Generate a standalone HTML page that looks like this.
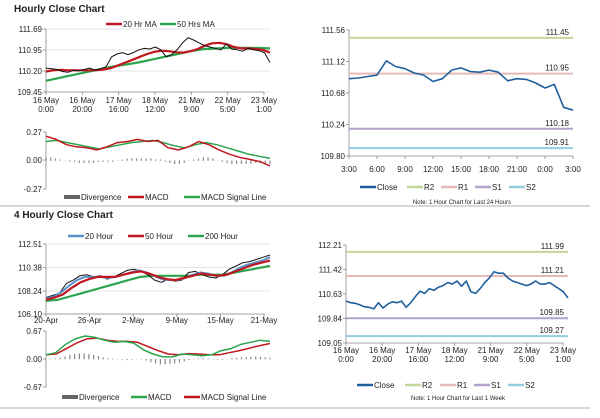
<!DOCTYPE html>
<html><head><meta charset="utf-8"><style>
body{margin:0;background:#fff;font-family:"Liberation Sans",Arial,sans-serif}
svg text{font-family:"Liberation Sans",Arial,sans-serif;fill:#222}
</style></head><body>
<svg id="s" width="600" height="413" viewBox="0 0 600 413">
<text x="14" y="12" font-size="10" font-weight="bold">Hourly Close Chart</text>
<text x="14" y="218" font-size="10" font-weight="bold">4 Hourly Close Chart</text>
<line x1="0" y1="206" x2="590" y2="206" stroke="#999" stroke-width="0.8"/>
<line x1="0" y1="408" x2="590" y2="408" stroke="#999" stroke-width="0.8"/>
<g id="g"></g>
</svg>
<script>
// ---------- data ----------
const p1Close=[110.30,110.28,110.25,110.18,110.15,110.22,110.20,110.25,110.30,110.22,110.28,110.35,110.70,110.80,110.85,110.78,110.85,110.95,111.00,110.98,111.05,110.95,110.70,110.78,110.95,111.20,111.38,111.30,111.20,111.10,111.05,111.00,110.95,111.15,110.98,110.95,110.90,111.00,110.95,110.92,110.85,110.50];
const p1MA20=[110.18,110.22,110.24,110.22,110.22,110.22,110.22,110.23,110.25,110.30,110.40,110.50,110.60,110.70,110.80,110.88,110.92,110.90,110.86,110.85,110.90,110.98,111.10,111.18,111.20,111.15,111.05,111.00,111.00,110.98,110.95,110.85];
const p1MA50=[109.85,109.95,110.05,110.15,110.25,110.35,110.42,110.50,110.60,110.70,110.80,110.90,110.98,111.00,111.02,111.02,111.02,111.00];
const p1MACD=[0.23,0.20,0.15,0.13,0.12,0.10,0.13,0.17,0.18,0.20,0.18,0.19,0.12,0.10,0.13,0.18,0.15,0.10,0.06,0.03,0.01,-0.01,-0.05];
const p1Signal=[0.18,0.19,0.17,0.15,0.13,0.11,0.13,0.15,0.17,0.18,0.19,0.17,0.14,0.12,0.15,0.17,0.15,0.12,0.09,0.06,0.04,0.02];
const p1Div=[0.03,0.03,0.02,0.01,0,-0.01,-0.01,-0.02,-0.02,-0.02,-0.02,-0.01,-0.01,-0.01,-0.01,0.0,0.01,0.02,0.02,0.02,0.02,0.02,0.02,0.01,0.01,-0.01,-0.02,-0.03,-0.03,-0.02,0.0,0.01,0.02,0.03,0.03,0.02,0.0,-0.01,-0.02,-0.03,-0.03,-0.03,-0.03,-0.03,-0.02,-0.02,-0.02,-0.03];
const p1YTicks=["111.69","110.95","110.20","109.45"];
const p1XTicks=[["16 May","0:00"],["16 May","20:00"],["17 May","16:00"],["18 May","12:00"],["21 May","9:00"],["22 May","5:00"],["23 May","1:00"]];

const p2Close=[110.88,110.89,110.91,110.93,111.13,111.05,111.02,110.96,110.93,110.84,110.88,111.00,111.03,110.98,110.97,111.00,110.97,110.85,110.88,110.87,110.82,110.75,110.80,110.48,110.44];
const p2Levels=[111.45,110.95,110.18,109.91];
const p2YTicks=["111.56","111.12","110.68","110.24","109.80"];
const p2XTicks=["3:00","6:00","9:00","12:00","15:00","18:00","21:00","0:00","3:00"];

const p3Close=[107.6,107.8,108.0,108.9,109.2,109.6,109.7,109.5,109.6,109.3,109.5,109.8,110.1,110.2,110.0,109.7,109.2,109.0,109.3,109.1,109.2,109.9,110.0,109.7,109.5,109.4,109.7,110.2,110.5,110.8,110.9,111.1,111.3,111.5];
const p3H20=[107.5,107.7,108.1,108.7,109.2,109.5,109.5,109.5,109.4,109.5,109.7,109.9,110.1,109.9,109.6,109.3,109.2,109.2,109.4,109.7,109.9,109.8,109.6,109.6,109.9,110.3,110.6,110.8,111.0,111.3];
const p3H50=[107.4,107.6,107.9,108.5,109.0,109.3,109.5,109.5,109.5,109.7,109.9,110.0,109.8,109.5,109.3,109.2,109.4,109.6,109.8,109.7,109.6,109.7,110.0,110.3,110.6,110.8,111.0];
const p3H200=[107.3,107.4,107.7,108.0,108.3,108.6,108.9,109.2,109.5,109.6,109.6,109.6,109.6,109.7,109.7,109.7,109.9,110.1,110.3,110.5];
const p3MACD=[0.10,0.15,0.35,0.48,0.55,0.52,0.45,0.40,0.42,0.38,0.22,0.12,0.05,0.05,0.12,0.10,0.08,0.10,0.20,0.25,0.35,0.40,0.45,0.42];
const p3Signal=[0.10,0.12,0.25,0.38,0.48,0.50,0.45,0.42,0.42,0.40,0.30,0.20,0.12,0.10,0.13,0.12,0.10,0.10,0.15,0.20,0.26,0.32,0.37];
const p3Div=[0,0,0.01,0.03,0.06,0.1,0.12,0.13,0.13,0.12,0.1,0.07,0.04,0.02,0.01,0,-0.01,-0.02,-0.01,0,0,-0.03,-0.07,-0.1,-0.12,-0.12,-0.11,-0.1,-0.08,-0.05,-0.02,0,0.01,0.02,0.01,0,-0.01,-0.01,0,0.02,0.03,0.04,0.05,0.05,0.06,0.05,0.04,0.03];
const p3YTicks=["112.51","110.38","108.24","106.10"];
const p3XTicks=["20-Apr","26-Apr","2-May","9-May","15-May","21-May"];

const p4Close=[110.40,110.35,110.33,110.28,110.22,110.20,110.15,110.35,110.18,110.30,110.38,110.35,110.40,110.20,110.35,110.55,110.72,110.65,110.80,110.75,110.85,110.90,111.00,110.95,111.05,110.88,111.05,110.70,110.65,110.80,111.00,111.15,111.35,111.30,111.30,111.15,111.05,111.00,110.95,110.90,110.95,111.05,110.95,110.95,111.00,110.90,110.80,110.70,110.50];
const p4Levels=[111.99,111.21,109.85,109.27];
const p4YTicks=["112.21","111.42","110.63","109.84","109.05"];
const p4XTicks=p1XTicks;

// ---------- drawing ----------
const NS="http://www.w3.org/2000/svg",G=document.getElementById('g');
function mk(t,a,txt){const e=document.createElementNS(NS,t);for(const k in a)e.setAttribute(k,a[k]);if(txt!==undefined)e.textContent=txt;G.appendChild(e);return e;}
function lin(v0,v1,p0,p1){return v=>p0+(v-v0)/(v1-v0)*(p1-p0);}
function series(arr,x0,x1,yf,col,w,name){
  const n=arr.length,pts=arr.map((v,i)=>(x0+i/(n-1)*(x1-x0)).toFixed(1)+','+yf(v).toFixed(1)).join(' ');
  const e=mk('polyline',{points:pts,fill:'none',stroke:col,'stroke-width':w,'stroke-linejoin':'round'});
  
  
}
function yaxis(x,ys,labels,name,grid,x1){
  const e=mk('line',{x1:x,y1:ys[0],x2:x,y2:ys[ys.length-1],stroke:'#888','stroke-width':0.8});
  
  labels.forEach((l,i)=>{
    if(grid){const g=mk('line',{x1:x,y1:ys[i],x2:x1,y2:ys[i],stroke:'#ccc','stroke-width':0.6});}
    mk('line',{x1:x-3,y1:ys[i],x2:x,y2:ys[i],stroke:'#888','stroke-width':0.8});
    const t=mk('text',{x:x-4,y:ys[i]+3,'font-size':8,'text-anchor':'end'},l);
    
  });
}
function xaxis(y,x0,x1,labels,name,ly){
  const e=mk('line',{x1:x0,y1:y,x2:x1,y2:y,stroke:'#888','stroke-width':0.8});
  
  labels.forEach((l,i)=>{
    const x=x0+i/(labels.length-1)*(x1-x0);
    mk('line',{x1:x,y1:y,x2:x,y2:y+3,stroke:'#888','stroke-width':0.8});
    const ls=Array.isArray(l)?l:[l];
    ls.forEach((s,j)=>{const t=mk('text',{x:x,y:ly+j*9,'font-size':8,'text-anchor':'middle'},s);});
  });
}
function legend(items,y,name){
  items.forEach(it=>{
    const l=mk('line',{x1:it[0],y1:y,x2:it[0]+16,y2:y,stroke:it[2],'stroke-width':it[3]||2.5});
    
    const t=mk('text',{x:it[0]+17,y:y+3,'font-size':8},it[1]);
    
  });
}
function bars(arr,x0,x1,yf,name){
  arr.forEach((v,i)=>{const x=x0+i/(arr.length-1)*(x1-x0),y0=yf(0),y=yf(v);
    const b=mk('rect',{x:x-0.6,y:Math.min(y0,y),width:1.2,height:Math.abs(y-y0)+0.3,fill:'#888'});
    });
}
function levels(vals,x0,x1,yf,cols,name){
  vals.forEach((v,i)=>{const y=yf(v);
    const l=mk('line',{x1:x0,y1:y,x2:x1,y2:y,stroke:cols[i],'stroke-width':2});
    
    const t=mk('text',{x:x1-4,y:y-3,'font-size':8,'text-anchor':'end'},v.toFixed(2));
    });
}
const LC=['#c3d69b','#e6b9b8','#b3a2c7','#93cddd'];

// Panel 1
{const y=lin(111.69,109.45,29,92),x0=46,x1=270;
 yaxis(x0,[29,50,71,92],p1YTicks,'p1',true,x1);xaxis(92,x0,264,p1XTicks,'p1',103);
 series(p1MA50,x0,x1,y,'#2ca44e',2.2,'ma50-line');
 series(p1MA20,x0,x1,y,'#c0171e',2.2,'ma20-line');
 series(p1Close,x0,270,y,'#111',1,'close-line');
 legend([[106,'20 Hr MA','#c0171e'],[160,'50 Hrs MA','#2ca44e']],24,'p1-legend');
 const m=lin(0.27,-0.27,132,189);
 yaxis(x0,[132,160,189],['0.27','0.00','-0.27'],'p1-macd',false);
 bars(p1Div,x0,x1,m,'divergence-bar');
 series(p1Signal,x0,x1,m,'#2ca44e',1.5,'macd-signal-line');
 series(p1MACD,x0,x1,m,'#c0171e',1.5,'macd-line');
 legend([[64,'Divergence','#666',4],[128,'MACD','#c0171e'],[184,'MACD Signal Line','#2ca44e']],197,'p1-macd-legend');}
// Panel 2
{const y=lin(111.56,109.80,30,156),x0=349,x1=573;
 yaxis(x0,[30,61.5,93,124.5,156],p2YTicks,'p2',false);xaxis(156,x0,x1,p2XTicks,'p2',172);
 levels(p2Levels,x0,x1,y,LC,'p2');
 series(p2Close,x0,x1,y,'#1f5f9e',1.6,'close-line');
 legend([[360,'Close','#1f5f9e'],[407,'R2',LC[0]],[441,'R1',LC[1]],[475,'S1',LC[2]],[509,'S2',LC[3]]],187,'p2-legend');
 const t=mk('text',{x:462,y:204,'font-size':6,'text-anchor':'middle'},'Note: 1 Hour Chart for Last 24 Hours');}
// Panel 3
{const y=lin(112.51,106.10,244,314),x0=46,x1=270;
 yaxis(x0,[244,267.5,291,314],p3YTicks,'p3',true,x1);xaxis(314,x0,264,p3XTicks,'p3',323);
 series(p3H200,x0,x1,y,'#2ca44e',2.2,'h200-line');
 series(p3Close,x0,x1,y,'#111',1,'close-line');
 series(p3H20,x0,x1,y,'#5b8fc7',2,'h20-line');
 series(p3H50,x0,x1,y,'#c0171e',2.2,'h50-line');
 legend([[68,'20 Hour','#5b8fc7'],[128,'50 Hour','#c0171e'],[188,'200 Hour','#2ca44e']],236,'p3-legend');
 const m=lin(0.67,-0.67,331,387);
 yaxis(x0,[331,359,387],['0.67','0.00','-0.67'],'p3-macd',false);
 bars(p3Div,x0,x1,m,'divergence-bar');
 series(p3Signal,x0,x1,m,'#c0171e',1.5,'macd-signal-line');
 series(p3MACD,x0,x1,m,'#2ca44e',1.5,'macd-line');
 legend([[62,'Divergence','#666',4],[131,'MACD','#2ca44e'],[184,'MACD Signal Line','#c0171e']],397,'p3-macd-legend');}
// Panel 4
{const y=lin(112.21,109.05,245,343),x0=346,x1=568;
 yaxis(x0,[245,269.5,294,318.5,343],p4YTicks,'p4',false);xaxis(343,x0,563,p4XTicks,'p4',353);
 levels(p4Levels,x0,x1,y,LC,'p4');
 series(p4Close,x0,x1,y,'#1f5f9e',1.6,'close-line');
 legend([[357,'Close','#1f5f9e'],[405,'R2',LC[0]],[440,'R1',LC[1]],[474,'S1',LC[2]],[508,'S2',LC[3]]],385,'p4-legend');
 const t=mk('text',{x:458,y:400,'font-size':6,'text-anchor':'middle'},'Note: 1 Hour Chart for Last 1 Week');}
</script>
</body></html>
